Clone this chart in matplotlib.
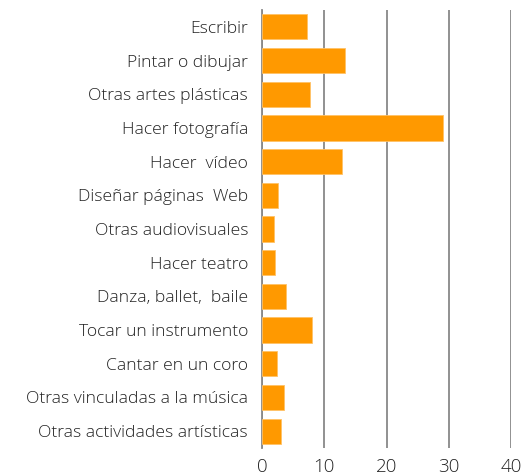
import numpy as np
import matplotlib.pyplot as plt

# Data
categories = [
    "Escribir",
    "Pintar o dibujar",
    "Otras artes plásticas",
    "Hacer fotografía",
    "Hacer  vídeo",
    "Diseñar páginas  Web",
    "Otras audiovisuales",
    "Hacer teatro",
    "Danza, ballet,  baile",
    "Tocar un instrumento",
    "Cantar en un coro",
    "Otras vinculadas a la música",
    "Otras actividades artísticas",
]
values = [7.15, 13.3, 7.7, 29.1, 12.8, 2.6, 1.9, 2.05, 3.9, 8.0, 2.4, 3.6, 3.0]
xticks = [0, 10, 20, 30, 40]

plt.rcParams['font.family'] = ['Open Sans', 'DejaVu Sans']

fig = plt.figure(figsize=(5.22, 4.75), dpi=100)
ax = fig.add_axes([262 / 522, 1 - 448 / 475, (511 - 262) / 522, (448 - 10) / 475])

y = np.arange(len(categories))
ax.barh(y, values, height=0.75, color='#FF9900', edgecolor='#FFC266',
        linewidth=0.6, zorder=3)

ax.set_ylim(len(categories) - 0.5, -0.5)
ax.set_xlim(0, 40)
ax.set_yticks(y)
ax.set_yticklabels(categories, fontsize=12.6, color='#222222', fontweight='light')
ax.set_xticks(xticks)
ax.set_xticklabels([str(t) for t in xticks], fontsize=13.5, color='#222222',
                   fontweight='light')
ax.tick_params(axis='both', length=0)
ax.tick_params(axis='y', pad=10)
ax.tick_params(axis='x', pad=7)

ax.grid(axis='x', color='#888888', linewidth=1.3, zorder=0)
for s in ['top', 'right', 'bottom']:
    ax.spines[s].set_visible(False)
ax.spines['left'].set_color('#888888')
ax.spines['left'].set_linewidth(1.3)

fig.savefig('out.png', dpi=100)
